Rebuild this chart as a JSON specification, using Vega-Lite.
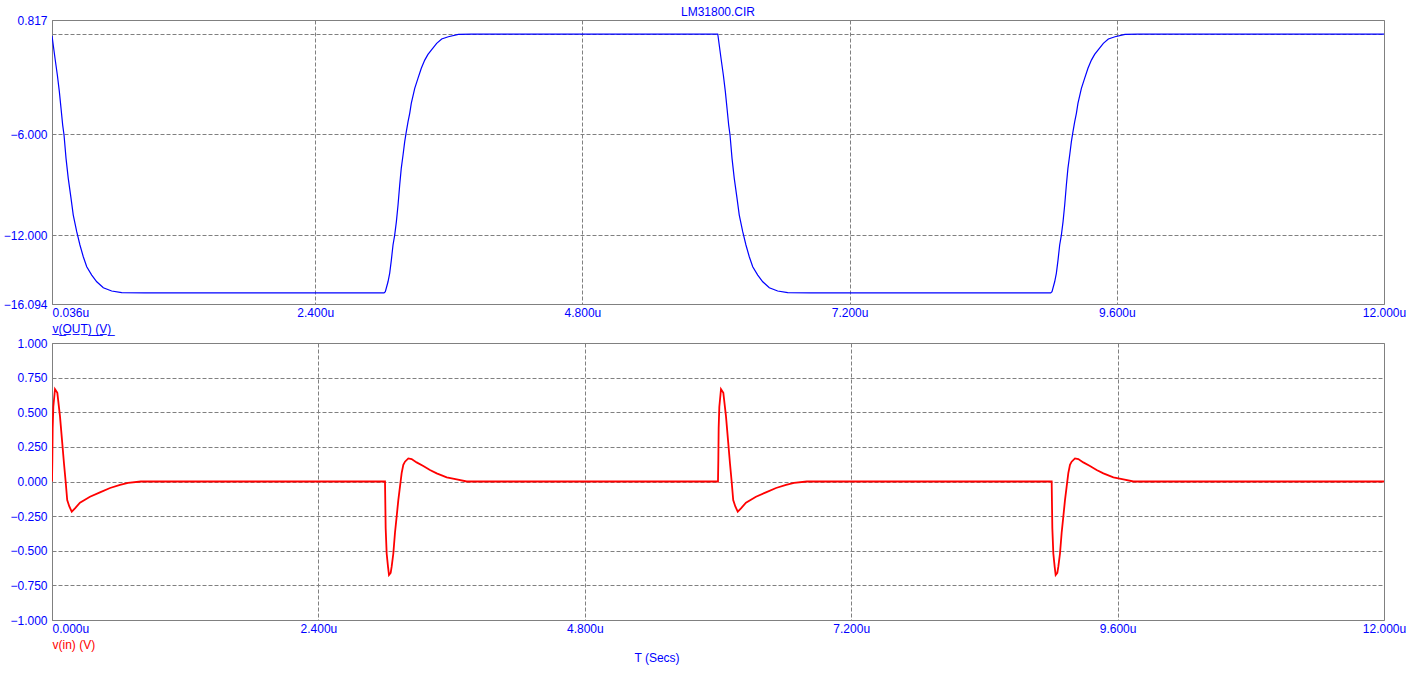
{
  "$schema": "https://vega.github.io/schema/vega-lite/v6.json",
  "background": "white",
  "autosize": {"type": "pad"},
  "padding": {"left": 2, "top": 5, "right": 9, "bottom": 6},
  "config": {
    "font": "Liberation Sans",
    "view": {"stroke": "#808080", "strokeWidth": 1},
    "axis": {
      "domain": false,
      "ticks": false,
      "grid": true,
      "gridColor": "#808080",
      "gridDash": [4, 2],
      "gridOpacity": 1,
      "gridWidth": 1,
      "labelFont": "Liberation Sans",
      "labelFontSize": 12,
      "labelColor": "#0000ff",
      "labelOverlap": false,
      "labelBound": false,
      "labelFlush": false,
      "titleFont": "Liberation Sans",
      "titleFontSize": 12,
      "titleFontWeight": "normal"
    }
  },
  "datasets": {
    "vout": [
      {"t": 0.036, "v": -0.12}, {"t": 0.039, "v": -0.27}, {"t": 0.063, "v": -1.46}, {"t": 0.084, "v": -2.46}, {"t": 0.102, "v": -3.45}, {"t": 0.117, "v": -4.44}, {"t": 0.132, "v": -5.44}, {"t": 0.144, "v": -6.03}, {"t": 0.162, "v": -7.42}, {"t": 0.182, "v": -8.61}, {"t": 0.207, "v": -9.80}, {"t": 0.227, "v": -10.80}, {"t": 0.258, "v": -11.79}, {"t": 0.287, "v": -12.58}, {"t": 0.317, "v": -13.28}, {"t": 0.348, "v": -13.88}, {"t": 0.393, "v": -14.37}, {"t": 0.438, "v": -14.77}, {"t": 0.497, "v": -15.13}, {"t": 0.572, "v": -15.32}, {"t": 0.662, "v": -15.42}, {"t": 0.871, "v": -15.43},
      {"t": 3.018, "v": -15.43}, {"t": 3.030, "v": -15.36}, {"t": 3.054, "v": -14.77}, {"t": 3.069, "v": -14.27}, {"t": 3.084, "v": -13.48}, {"t": 3.099, "v": -12.58}, {"t": 3.114, "v": -11.99}, {"t": 3.129, "v": -11.20}, {"t": 3.144, "v": -10.20}, {"t": 3.159, "v": -9.01}, {"t": 3.173, "v": -8.02}, {"t": 3.189, "v": -7.22}, {"t": 3.204, "v": -6.43}, {"t": 3.218, "v": -5.84}, {"t": 3.234, "v": -5.24}, {"t": 3.249, "v": -4.74}, {"t": 3.263, "v": -4.15}, {"t": 3.294, "v": -3.25}, {"t": 3.323, "v": -2.66}, {"t": 3.353, "v": -2.06}, {"t": 3.384, "v": -1.57}, {"t": 3.413, "v": -1.23}, {"t": 3.443, "v": -0.97}, {"t": 3.491, "v": -0.57}, {"t": 3.536, "v": -0.31}, {"t": 3.596, "v": -0.18}, {"t": 3.686, "v": -0.04}, {"t": 3.800, "v": -0.03},
      {"t": 6.015, "v": -0.03}, {"t": 6.018, "v": -0.12}, {"t": 6.021, "v": -0.27}, {"t": 6.045, "v": -1.46}, {"t": 6.066, "v": -2.46}, {"t": 6.084, "v": -3.45}, {"t": 6.099, "v": -4.44}, {"t": 6.114, "v": -5.44}, {"t": 6.126, "v": -6.03}, {"t": 6.144, "v": -7.42}, {"t": 6.164, "v": -8.61}, {"t": 6.189, "v": -9.80}, {"t": 6.209, "v": -10.80}, {"t": 6.240, "v": -11.79}, {"t": 6.269, "v": -12.58}, {"t": 6.299, "v": -13.28}, {"t": 6.330, "v": -13.88}, {"t": 6.375, "v": -14.37}, {"t": 6.420, "v": -14.77}, {"t": 6.479, "v": -15.13}, {"t": 6.554, "v": -15.32}, {"t": 6.644, "v": -15.42}, {"t": 6.853, "v": -15.43},
      {"t": 9.006, "v": -15.43}, {"t": 9.018, "v": -15.36}, {"t": 9.042, "v": -14.77}, {"t": 9.057, "v": -14.27}, {"t": 9.072, "v": -13.48}, {"t": 9.087, "v": -12.58}, {"t": 9.102, "v": -11.99}, {"t": 9.117, "v": -11.20}, {"t": 9.132, "v": -10.20}, {"t": 9.147, "v": -9.01}, {"t": 9.161, "v": -8.02}, {"t": 9.177, "v": -7.22}, {"t": 9.192, "v": -6.43}, {"t": 9.206, "v": -5.84}, {"t": 9.222, "v": -5.24}, {"t": 9.237, "v": -4.74}, {"t": 9.251, "v": -4.15}, {"t": 9.282, "v": -3.25}, {"t": 9.311, "v": -2.66}, {"t": 9.341, "v": -2.06}, {"t": 9.372, "v": -1.57}, {"t": 9.401, "v": -1.23}, {"t": 9.431, "v": -0.97}, {"t": 9.479, "v": -0.57}, {"t": 9.524, "v": -0.31}, {"t": 9.584, "v": -0.18}, {"t": 9.674, "v": -0.04}, {"t": 9.788, "v": -0.03}, {"t": 12.0, "v": -0.03}
    ],
    "vin": [
      {"t": 0, "v": 0}, {"t": 0.003, "v": 0.155}, {"t": 0.006, "v": 0.386}, {"t": 0.012, "v": 0.54}, {"t": 0.027, "v": 0.667}, {"t": 0.048, "v": 0.64}, {"t": 0.072, "v": 0.47}, {"t": 0.090, "v": 0.30}, {"t": 0.108, "v": 0.13}, {"t": 0.123, "v": 0}, {"t": 0.137, "v": -0.134}, {"t": 0.156, "v": -0.18}, {"t": 0.178, "v": -0.218}, {"t": 0.207, "v": -0.194}, {"t": 0.252, "v": -0.153}, {"t": 0.342, "v": -0.11}, {"t": 0.432, "v": -0.078}, {"t": 0.523, "v": -0.047}, {"t": 0.613, "v": -0.025}, {"t": 0.685, "v": -0.01}, {"t": 0.800, "v": 0},
      {"t": 3.000, "v": 0}, {"t": 3.006, "v": -0.338}, {"t": 3.015, "v": -0.52}, {"t": 3.027, "v": -0.615}, {"t": 3.036, "v": -0.675}, {"t": 3.051, "v": -0.66}, {"t": 3.060, "v": -0.615}, {"t": 3.075, "v": -0.52}, {"t": 3.090, "v": -0.37}, {"t": 3.105, "v": -0.254}, {"t": 3.120, "v": -0.134}, {"t": 3.135, "v": -0.037}, {"t": 3.150, "v": 0.06}, {"t": 3.165, "v": 0.12}, {"t": 3.180, "v": 0.143}, {"t": 3.210, "v": 0.167}, {"t": 3.240, "v": 0.162}, {"t": 3.285, "v": 0.138}, {"t": 3.345, "v": 0.112}, {"t": 3.405, "v": 0.083}, {"t": 3.466, "v": 0.059}, {"t": 3.556, "v": 0.03}, {"t": 3.646, "v": 0.016}, {"t": 3.736, "v": 0},
      {"t": 6.000, "v": 0}, {"t": 6.003, "v": 0.155}, {"t": 6.006, "v": 0.386}, {"t": 6.012, "v": 0.54}, {"t": 6.027, "v": 0.667}, {"t": 6.048, "v": 0.64}, {"t": 6.072, "v": 0.47}, {"t": 6.090, "v": 0.30}, {"t": 6.108, "v": 0.13}, {"t": 6.123, "v": 0}, {"t": 6.137, "v": -0.134}, {"t": 6.156, "v": -0.18}, {"t": 6.178, "v": -0.218}, {"t": 6.207, "v": -0.194}, {"t": 6.252, "v": -0.153}, {"t": 6.342, "v": -0.11}, {"t": 6.432, "v": -0.078}, {"t": 6.523, "v": -0.047}, {"t": 6.613, "v": -0.025}, {"t": 6.685, "v": -0.01}, {"t": 6.800, "v": 0},
      {"t": 9.006, "v": 0}, {"t": 9.012, "v": -0.338}, {"t": 9.021, "v": -0.52}, {"t": 9.033, "v": -0.615}, {"t": 9.042, "v": -0.675}, {"t": 9.057, "v": -0.66}, {"t": 9.066, "v": -0.615}, {"t": 9.081, "v": -0.52}, {"t": 9.096, "v": -0.37}, {"t": 9.111, "v": -0.254}, {"t": 9.126, "v": -0.134}, {"t": 9.141, "v": -0.037}, {"t": 9.156, "v": 0.06}, {"t": 9.171, "v": 0.12}, {"t": 9.186, "v": 0.143}, {"t": 9.216, "v": 0.167}, {"t": 9.246, "v": 0.162}, {"t": 9.291, "v": 0.138}, {"t": 9.351, "v": 0.112}, {"t": 9.411, "v": 0.083}, {"t": 9.472, "v": 0.059}, {"t": 9.562, "v": 0.03}, {"t": 9.652, "v": 0.016}, {"t": 9.742, "v": 0}, {"t": 12.0, "v": 0}
    ]
  },
  "spacing": 39,
  "bounds": "flush",
  "vconcat": [
    {
      "width": 1332,
      "height": 284,
      "title": {"text": "LM31800.CIR", "color": "#0000ff", "font": "Liberation Sans", "fontSize": 12, "fontWeight": "normal", "anchor": "middle", "frame": "group", "offset": -5},
      "data": {"name": "vout"},
      "mark": {"type": "line", "color": "#0000ff", "strokeWidth": 1.2, "clip": true},
      "encoding": {
        "x": {
          "field": "t", "type": "quantitative",
          "scale": {"domain": [0.036, 12], "nice": false, "zero": false},
          "axis": {
            "values": [0.036, 2.4, 4.8, 7.2, 9.6, 12],
            "labelExpr": "format(datum.value, '.3f') + 'u'",
            "labelAlign": {"condition": {"test": "datum.value < 0.1", "value": "left"}, "value": "center"},
            "labelPadding": 3,
            "title": "v̲(̲O̲U̲T̲)̲ ̲(̲V̲)̲",
            "titleColor": "#0000ff",
            "titleAnchor": "start",
            "titleAlign": "left",
            "titlePadding": 5
          }
        },
        "y": {
          "field": "v", "type": "quantitative",
          "scale": {"domain": [-16.094, 0.817], "nice": false, "zero": false},
          "axis": {
            "values": [0.817, 0, -6, -12, -16.094],
            "labelExpr": "datum.value == 0 ? '' : format(datum.value, '.3f')",
            "labelPadding": 5,
            "minExtent": 46,
            "maxExtent": 46,
            "title": null
          }
        }
      }
    },
    {
      "width": 1332,
      "height": 277,
      "title": {"text": "T (Secs)", "orient": "bottom", "color": "#0000ff", "font": "Liberation Sans", "fontSize": 12, "fontWeight": "normal", "anchor": "middle", "frame": "group", "dx": -61, "offset": 3},
      "data": {"name": "vin"},
      "mark": {"type": "line", "color": "#ff0000", "strokeWidth": 1.8, "clip": true},
      "encoding": {
        "x": {
          "field": "t", "type": "quantitative",
          "scale": {"domain": [0, 12], "nice": false, "zero": false},
          "axis": {
            "values": [0, 2.4, 4.8, 7.2, 9.6, 12],
            "labelExpr": "format(datum.value, '.3f') + 'u'",
            "labelAlign": {"condition": {"test": "datum.value < 0.1", "value": "left"}, "value": "center"},
            "labelPadding": 3,
            "title": "v(in) (V)",
            "titleColor": "#ff0000",
            "titleAnchor": "start",
            "titleAlign": "left",
            "titlePadding": 5
          }
        },
        "y": {
          "field": "v", "type": "quantitative",
          "scale": {"domain": [-1, 1], "nice": false, "zero": false},
          "axis": {
            "values": [1, 0.75, 0.5, 0.25, 0, -0.25, -0.5, -0.75, -1],
            "labelExpr": "format(datum.value, '.3f')",
            "labelPadding": 5,
            "minExtent": 46,
            "maxExtent": 46,
            "title": null
          }
        }
      }
    }
  ]
}
